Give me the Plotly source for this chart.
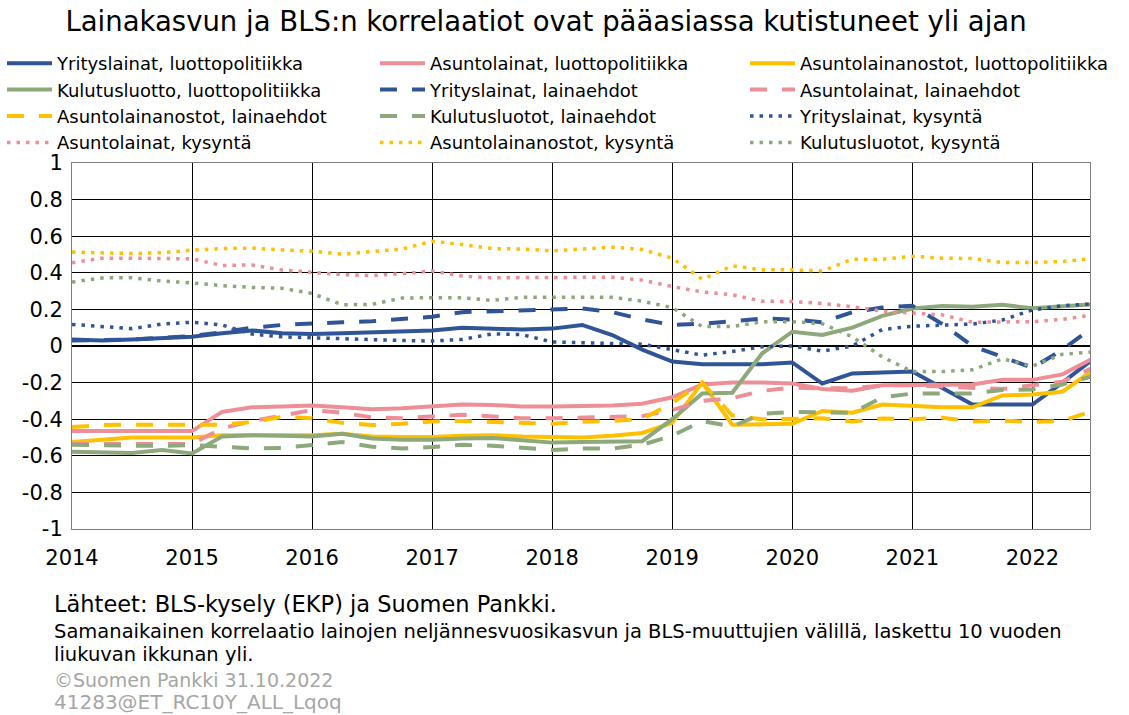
import pandas as pd
import plotly.graph_objects as go

# ---- data ----
periods = pd.period_range("2014Q1", "2022Q3", freq="Q")
x_time = [p.year + (p.quarter - 1) / 4 for p in periods]

yr_luotto = [0.035, 0.03, 0.035, 0.045, 0.05, 0.07, 0.085, 0.07, 0.065, 0.07, 0.075, 0.08,
             0.085, 0.10, 0.095, 0.09, 0.095, 0.115, 0.06, -0.02, -0.085, -0.10, -0.10, -0.10,
             -0.09, -0.205, -0.15, -0.145, -0.14, -0.23, -0.32, -0.32, -0.32, -0.20, -0.075]
as_luotto = [-0.465, -0.465, -0.465, -0.465, -0.465, -0.36, -0.335, -0.33, -0.325, -0.335, -0.345, -0.34,
             -0.33, -0.32, -0.322, -0.33, -0.33, -0.33, -0.325, -0.315, -0.28, -0.21, -0.20, -0.20,
             -0.205, -0.235, -0.245, -0.215, -0.215, -0.215, -0.21, -0.185, -0.185, -0.155, -0.07]
ano_luotto = [-0.525, -0.51, -0.50, -0.50, -0.50, -0.488, -0.488, -0.488, -0.488, -0.48, -0.495, -0.497,
              -0.497, -0.49, -0.488, -0.495, -0.50, -0.50, -0.49, -0.475, -0.42, -0.20, -0.43, -0.43,
              -0.425, -0.355, -0.365, -0.32, -0.33, -0.335, -0.335, -0.27, -0.265, -0.25, -0.135]
ku_luotto = [-0.578, -0.58, -0.585, -0.568, -0.587, -0.494, -0.488, -0.49, -0.494, -0.48, -0.505, -0.512,
             -0.512, -0.505, -0.503, -0.515, -0.528, -0.524, -0.523, -0.52, -0.40, -0.26, -0.255, -0.04,
             0.078, 0.06, 0.10, 0.165, 0.205, 0.218, 0.215, 0.225, 0.206, 0.215, 0.228]
yr_ehdot = [0.03, 0.03, 0.035, 0.045, 0.055, 0.075, 0.10, 0.115, 0.125, 0.13, 0.135, 0.145,
            0.16, 0.185, 0.19, 0.19, 0.20, 0.205, 0.185, 0.145, 0.115, 0.122, 0.135, 0.15,
            0.145, 0.13, 0.185, 0.21, 0.22, 0.12, 0.0, -0.06, -0.12, -0.02, 0.10]
as_ehdot = [-0.535, -0.535, -0.535, -0.535, -0.535, -0.45, -0.41, -0.38, -0.35, -0.365, -0.39, -0.395,
            -0.385, -0.375, -0.385, -0.395, -0.395, -0.39, -0.39, -0.383, -0.35, -0.30, -0.285, -0.245,
            -0.227, -0.232, -0.23, -0.215, -0.215, -0.222, -0.23, -0.235, -0.215, -0.195, -0.12]
ano_ehdot = [-0.443, -0.432, -0.43, -0.43, -0.43, -0.43, -0.415, -0.388, -0.395, -0.42, -0.432, -0.425,
             -0.412, -0.41, -0.415, -0.422, -0.425, -0.414, -0.41, -0.40, -0.31, -0.20, -0.38, -0.40,
             -0.395, -0.395, -0.412, -0.396, -0.40, -0.392, -0.412, -0.408, -0.414, -0.41, -0.355]
ku_ehdot = [-0.54, -0.545, -0.545, -0.545, -0.542, -0.55, -0.56, -0.557, -0.542, -0.525, -0.55, -0.56,
            -0.552, -0.54, -0.545, -0.558, -0.568, -0.56, -0.56, -0.54, -0.49, -0.41, -0.44, -0.37,
            -0.36, -0.362, -0.365, -0.28, -0.26, -0.26, -0.26, -0.24, -0.238, -0.21, -0.165]
yr_kysynta = [0.118, 0.105, 0.095, 0.12, 0.13, 0.115, 0.065, 0.05, 0.045, 0.036, 0.033, 0.03,
              0.027, 0.036, 0.066, 0.062, 0.022, 0.018, 0.018, 0.01, -0.02, -0.05, -0.03, -0.004,
              0.0, -0.028, 0.0, 0.09, 0.108, 0.115, 0.12, 0.142, 0.197, 0.22, 0.23]
as_kysynta = [0.455, 0.48, 0.48, 0.478, 0.476, 0.44, 0.443, 0.415, 0.404, 0.39, 0.385, 0.395,
              0.41, 0.382, 0.373, 0.373, 0.373, 0.376, 0.376, 0.36, 0.325, 0.295, 0.28, 0.245,
              0.243, 0.232, 0.215, 0.19, 0.182, 0.17, 0.13, 0.13, 0.133, 0.145, 0.17]
ano_kysynta = [0.513, 0.51, 0.505, 0.51, 0.524, 0.533, 0.535, 0.525, 0.518, 0.502, 0.515, 0.53,
               0.572, 0.555, 0.532, 0.53, 0.52, 0.53, 0.54, 0.528, 0.48, 0.365, 0.438, 0.416,
               0.416, 0.41, 0.474, 0.474, 0.49, 0.48, 0.478, 0.456, 0.456, 0.462, 0.478]
ku_kysynta = [0.349, 0.372, 0.373, 0.355, 0.345, 0.33, 0.32, 0.315, 0.287, 0.225, 0.228, 0.262,
              0.264, 0.264, 0.249, 0.266, 0.266, 0.266, 0.266, 0.245, 0.21, 0.106, 0.106, 0.133,
              0.133, 0.122, 0.05, -0.06, -0.14, -0.14, -0.13, -0.07, -0.11, -0.045, -0.033]

series_names = [
    "Yrityslainat, luottopolitiikka", "Asuntolainat, luottopolitiikka", "Asuntolainanostot, luottopolitiikka",
    "Kulutusluotto, luottopolitiikka", "Yrityslainat, lainaehdot", "Asuntolainat, lainaehdot",
    "Asuntolainanostot, lainaehdot", "Kulutusluotot, lainaehdot", "Yrityslainat, kysyntä",
    "Asuntolainat, kysyntä", "Asuntolainanostot, kysyntä", "Kulutusluotot, kysyntä",
]
series_values = [yr_luotto, as_luotto, ano_luotto, ku_luotto, yr_ehdot, as_ehdot,
                 ano_ehdot, ku_ehdot, yr_kysynta, as_kysynta, ano_kysynta, ku_kysynta]

x_tickvals = [2014, 2015, 2016, 2017, 2018, 2019, 2020, 2021, 2022]
x_ticktext = ["2014", "2015", "2016", "2017", "2018", "2019", "2020", "2021", "2022"]
y_tickvals = [1, 0.8, 0.6, 0.4, 0.2, 0, -0.2, -0.4, -0.6, -0.8, -1]
y_ticktext = ["1", "0.8", "0.6", "0.4", "0.2", "0", "-0.2", "-0.4", "-0.6", "-0.8", "-1"]

# ---- styles ----
BLUE, PINK, YELLOW, GREEN = "#2F5597", "#EE8F98", "#FFC000", "#8DA97B"
colors = [BLUE, PINK, YELLOW, GREEN]
FONT = "DejaVu Sans"

fig = go.Figure()
for i, (name, vals) in enumerate(zip(series_names, series_values)):
    color = colors[i % 4]
    if i < 4:
        line = dict(color=color, width=4)
    elif i < 8:
        line = dict(color=color, width=4, dash="17px,15px")
    else:
        line = dict(color=color, width=3.5, dash="3.5px,6px")
    leg = ["legend", "legend2", "legend3"][i % 3]
    fig.add_trace(go.Scatter(x=x_time, y=vals, mode="lines", name=name, line=line,
                             legend=leg, hoverinfo="skip"))

L, R, T, B = 72, 39, 163, 186
W, H = 1129, 715
pw, ph = W - L - R, H - T - B

def px_x(px):
    return (px - L) / pw

def px_y(py):
    return (H - B - py) / ph

legend_common = dict(orientation="v", font=dict(family=FONT, size=18, color="#000000"),
                     bgcolor="rgba(0,0,0,0)", yanchor="top", xanchor="left",
                     y=px_y(45), itemwidth=45, tracegroupgap=0)

fig.update_layout(
    width=W, height=H,
    margin=dict(l=L, r=R, t=T, b=B, autoexpand=False),
    paper_bgcolor="white", plot_bgcolor="white",
    font=dict(family=FONT, color="#000000"),
    title=dict(text="Lainakasvun ja BLS:n korrelaatiot ovat pääasiassa kutistuneet yli ajan",
               font=dict(family=FONT, size=27.5, color="#000000"),
               x=546 / W, xref="container", xanchor="center",
               y=1 - 21 / H, yref="container", yanchor="middle"),
    legend=dict(legend_common, x=px_x(2)),
    legend2=dict(legend_common, x=px_x(375)),
    legend3=dict(legend_common, x=px_x(745)),
    xaxis=dict(range=[2014, 2022.48], tickvals=x_tickvals, ticktext=x_ticktext,
               showgrid=True, gridcolor="#000000", gridwidth=1,
               showline=True, linecolor="#808080", linewidth=1, mirror=True,
               zeroline=False, ticks="", ticklabelstandoff=10,
               tickfont=dict(family=FONT, size=21, color="#000000")),
    yaxis=dict(range=[-1, 1], tickvals=y_tickvals, ticktext=y_ticktext,
               showgrid=True, gridcolor="#000000", gridwidth=1,
               showline=True, linecolor="#808080", linewidth=1, mirror=True,
               zeroline=True, zerolinecolor="#000000", zerolinewidth=2,
               ticks="", ticklabelstandoff=4,
               tickfont=dict(family=FONT, size=21, color="#000000")),
    showlegend=True,
)

notes = [
    ("Lähteet: BLS-kysely (EKP) ja Suomen Pankki.", 604, 22.5, "#000000"),
    ("Samanaikainen korrelaatio lainojen neljännesvuosikasvun ja BLS-muuttujien välillä, laskettu 10 vuoden", 631, 19.5, "#000000"),
    ("liukuvan ikkunan yli.", 654, 19.5, "#000000"),
    ("©Suomen Pankki 31.10.2022", 680, 19, "#A6A6A6"),
    ("41283@ET_RC10Y_ALL_Lqoq", 702, 20, "#A6A6A6"),
]
for text, py, size, col in notes:
    fig.add_annotation(text=text, xref="paper", yref="paper", x=px_x(52), y=px_y(py),
                       xanchor="left", yanchor="middle", showarrow=False,
                       font=dict(family=FONT, size=size, color=col))

fig.write_html("out.html", config={"displayModeBar": False},
               post_script="document.body.style.margin='0';document.body.style.overflow='hidden';")
